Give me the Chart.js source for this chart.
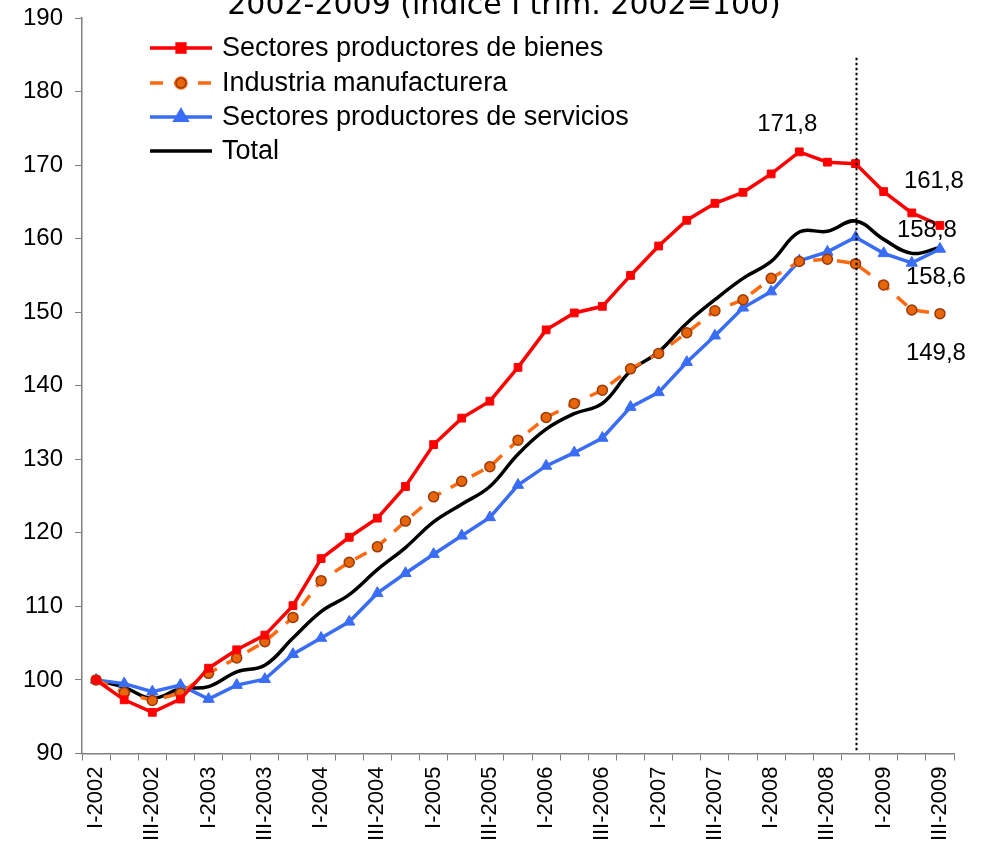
<!DOCTYPE html>
<html>
<head>
<meta charset="utf-8">
<script src="https://cdn.jsdelivr.net/npm/chart.js@4/dist/chart.umd.min.js"></script>
<style>
html,body{margin:0;padding:0;background:#fff;}
#wrap{width:985px;height:857px;position:relative;overflow:hidden;}
canvas{display:block;}
</style>
</head>
<body>
<div id="wrap"><canvas id="c" width="985" height="857"></canvas></div>
<script>
const categories = [
 "I-2002","II-2002","III-2002","IV-2002",
 "I-2003","II-2003","III-2003","IV-2003",
 "I-2004","II-2004","III-2004","IV-2004",
 "I-2005","II-2005","III-2005","IV-2005",
 "I-2006","II-2006","III-2006","IV-2006",
 "I-2007","II-2007","III-2007","IV-2007",
 "I-2008","II-2008","III-2008","IV-2008",
 "I-2009","II-2009","III-2009"];

const bienes = [100.0,97.3,95.6,97.4,101.6,104.1,106.1,110.1,116.5,119.4,122.0,126.3,132.0,135.6,137.9,142.5,147.6,149.9,150.8,155.0,159.0,162.5,164.8,166.3,168.8,171.8,170.4,170.2,166.4,163.5,161.8];
const manufacturera = [100.0,98.3,97.2,98.2,100.9,103.0,105.2,108.5,113.5,116.0,118.1,121.6,124.9,127.0,129.0,132.6,135.7,137.6,139.4,142.3,144.4,147.2,150.2,151.7,154.6,156.9,157.2,156.6,153.7,150.3,149.8];
const servicios = [100.0,99.5,98.4,99.3,97.4,99.3,100.1,103.5,105.7,107.9,111.8,114.5,117.1,119.6,122.1,126.5,129.1,130.9,132.9,137.1,139.1,143.2,146.8,150.6,152.8,157.0,158.2,160.2,158.0,156.7,158.6];
const total = [100.0,99.0,97.5,98.8,99.1,101.1,102.0,105.7,109.3,111.6,115.0,118.0,121.5,123.9,126.3,130.7,134.1,136.2,137.6,142.0,144.6,148.5,151.7,154.6,156.9,160.9,161.0,162.4,159.9,158.0,158.8];

const seriesNames = ["Sectores productores de bienes","Industria manufacturera","Sectores productores de servicios","Total"];
const titleText = "2002-2009 (índice I trim. 2002=100)";
const markerIndex = 27; // IV-2008

const FONT = "'Liberation Sans', Arial, sans-serif";

const overlay = {
  id: 'overlay',
  afterDatasetsDraw(chart) {
    const ctx = chart.ctx;
    const xs = chart.scales.x, ys = chart.scales.y;
    // dotted vertical line
    ctx.save();
    const vx = Math.round(xs.getPixelForValue(markerIndex)) + 0.5;
    ctx.strokeStyle = '#000';
    ctx.lineWidth = 2;
    ctx.setLineDash([2.5, 2.5]);
    ctx.beginPath();
    ctx.moveTo(vx, ys.getPixelForValue(184.6));
    ctx.lineTo(vx, ys.bottom - 3);
    ctx.stroke();
    ctx.restore();

    // data labels
    ctx.save();
    ctx.font = "24px " + FONT;
    ctx.fillStyle = '#000';
    ctx.textAlign = 'center';
    ctx.textBaseline = 'alphabetic';
    const lab = (ds, i, txt, dx, dy) => {
      const m = chart.getDatasetMeta(ds).data[i];
      ctx.fillText(txt, m.x + dx, m.y + dy);
    };
    lab(0, 25, "171,8", -12, -21);
    lab(0, 30, "161,8", -6, -37);
    lab(3, 30, "158,8", -13, -10);
    lab(2, 30, "158,6", -4, 35);
    lab(1, 30, "149,8", -4, 46);
    ctx.restore();

    // legend
    ctx.save();
    const rows = [48, 83, 117, 151];
    const x0 = 150, x1 = 212, tx = 222;
    chart.data.datasets.forEach((ds, k) => {
      const y = rows[k];
      ctx.save();
      ctx.strokeStyle = ds.borderColor;
      ctx.lineWidth = ds.borderWidth;
      ctx.setLineDash(ds.borderDash || []);
      ctx.beginPath();
      ctx.moveTo(x0, y);
      ctx.lineTo(x1, y);
      ctx.stroke();
      ctx.setLineDash([]);
      if (ds.pointRadius > 0) {
        Chart.helpers.drawPoint(ctx, {
          pointStyle: ds.pointStyle,
          radius: ds.pointRadius,
          rotation: 0,
          borderWidth: ds.pointBorderWidth
        }, (x0 + x1) / 2, y);
        ctx.fillStyle = ds.pointBackgroundColor;
        ctx.strokeStyle = ds.pointBorderColor;
        ctx.lineWidth = ds.pointBorderWidth;
        ctx.fill();
        if (ds.pointBorderWidth) ctx.stroke();
      }
      ctx.restore();
      ctx.font = "27px " + FONT;
      ctx.fillStyle = '#000';
      ctx.textAlign = 'left';
      ctx.textBaseline = 'middle';
      ctx.fillText(ds.label, tx, y + 1);
    });
    ctx.restore();

    // title (top clipped as in original)
    ctx.save();
    ctx.font = "30px 'DejaVu Sans', Verdana, sans-serif";
    ctx.fillStyle = '#000';
    ctx.textAlign = 'center';
    ctx.textBaseline = 'alphabetic';
    ctx.fillText(titleText, 504, 14);
    ctx.restore();
  }
};

new Chart(document.getElementById('c'), {
  type: 'line',
  data: {
    labels: categories,
    datasets: [
      {
        label: seriesNames[0], data: bienes,
        borderColor: '#FF0000', borderWidth: 3.5,
        pointStyle: 'rect', pointRadius: 5.5,
        pointBackgroundColor: '#FF0000', pointBorderColor: '#FF0000', pointBorderWidth: 1,
        tension: 0, order: 1
      },
      {
        label: seriesNames[1], data: manufacturera,
        borderColor: '#FF6A10', borderWidth: 3.5, borderDash: [13, 11],
        pointStyle: 'circle', pointRadius: 5,
        pointBackgroundColor: '#E8650A', pointBorderColor: '#9A3A08', pointBorderWidth: 1.5,
        tension: 0, order: 2
      },
      {
        label: seriesNames[2], data: servicios,
        borderColor: '#3A6DF5', borderWidth: 3.5,
        pointStyle: 'triangle', pointRadius: 6.5,
        pointBackgroundColor: '#3A6DF5', pointBorderColor: '#3A6DF5', pointBorderWidth: 1,
        tension: 0, order: 3
      },
      {
        label: seriesNames[3], data: total,
        borderColor: '#000000', borderWidth: 3.5,
        pointRadius: 0, pointStyle: false,
        pointBackgroundColor: '#000', pointBorderColor: '#000', pointBorderWidth: 0,
        tension: 0.4, order: 4
      }
    ]
  },
  options: {
    responsive: false,
    animation: false,
    devicePixelRatio: 1,
    layout: { padding: { top: 18, right: 31, left: 0, bottom: 0 } },
    plugins: { legend: { display: false }, title: { display: false }, tooltip: { enabled: false } },
    scales: {
      x: {
        type: 'category',
        offset: true,
        grid: { display: true, drawOnChartArea: false, drawTicks: true, tickLength: 7, color: '#7f7f7f', offset: true, lineWidth: 1 },
        border: { color: '#7f7f7f', width: 1.5 },
        ticks: {
          autoSkip: false, maxRotation: 90, minRotation: 90,
          font: { family: FONT, size: 22 }, color: '#000', padding: 6,
          callback: (v, i) => (i % 2 === 0 ? categories[i] : '')
        },
        afterFit: (s) => { s.height = 103.5; s.paddingLeft = 0; s.paddingRight = 0; s.paddingTop = 0; s.paddingBottom = 0; }
      },
      y: {
        min: 90, max: 190,
        grid: { display: true, drawOnChartArea: false, drawTicks: true, tickLength: 7, color: '#7f7f7f' },
        border: { color: '#7f7f7f', width: 1.5 },
        ticks: { stepSize: 10, font: { family: FONT, size: 24 }, color: '#000', padding: 12 },
        afterFit: (s) => { s.width = 82; s.paddingTop = 0; s.paddingBottom = 0; s.paddingLeft = 0; s.paddingRight = 0; }
      }
    }
  },
  plugins: [overlay]
});
</script>
</body>
</html>
